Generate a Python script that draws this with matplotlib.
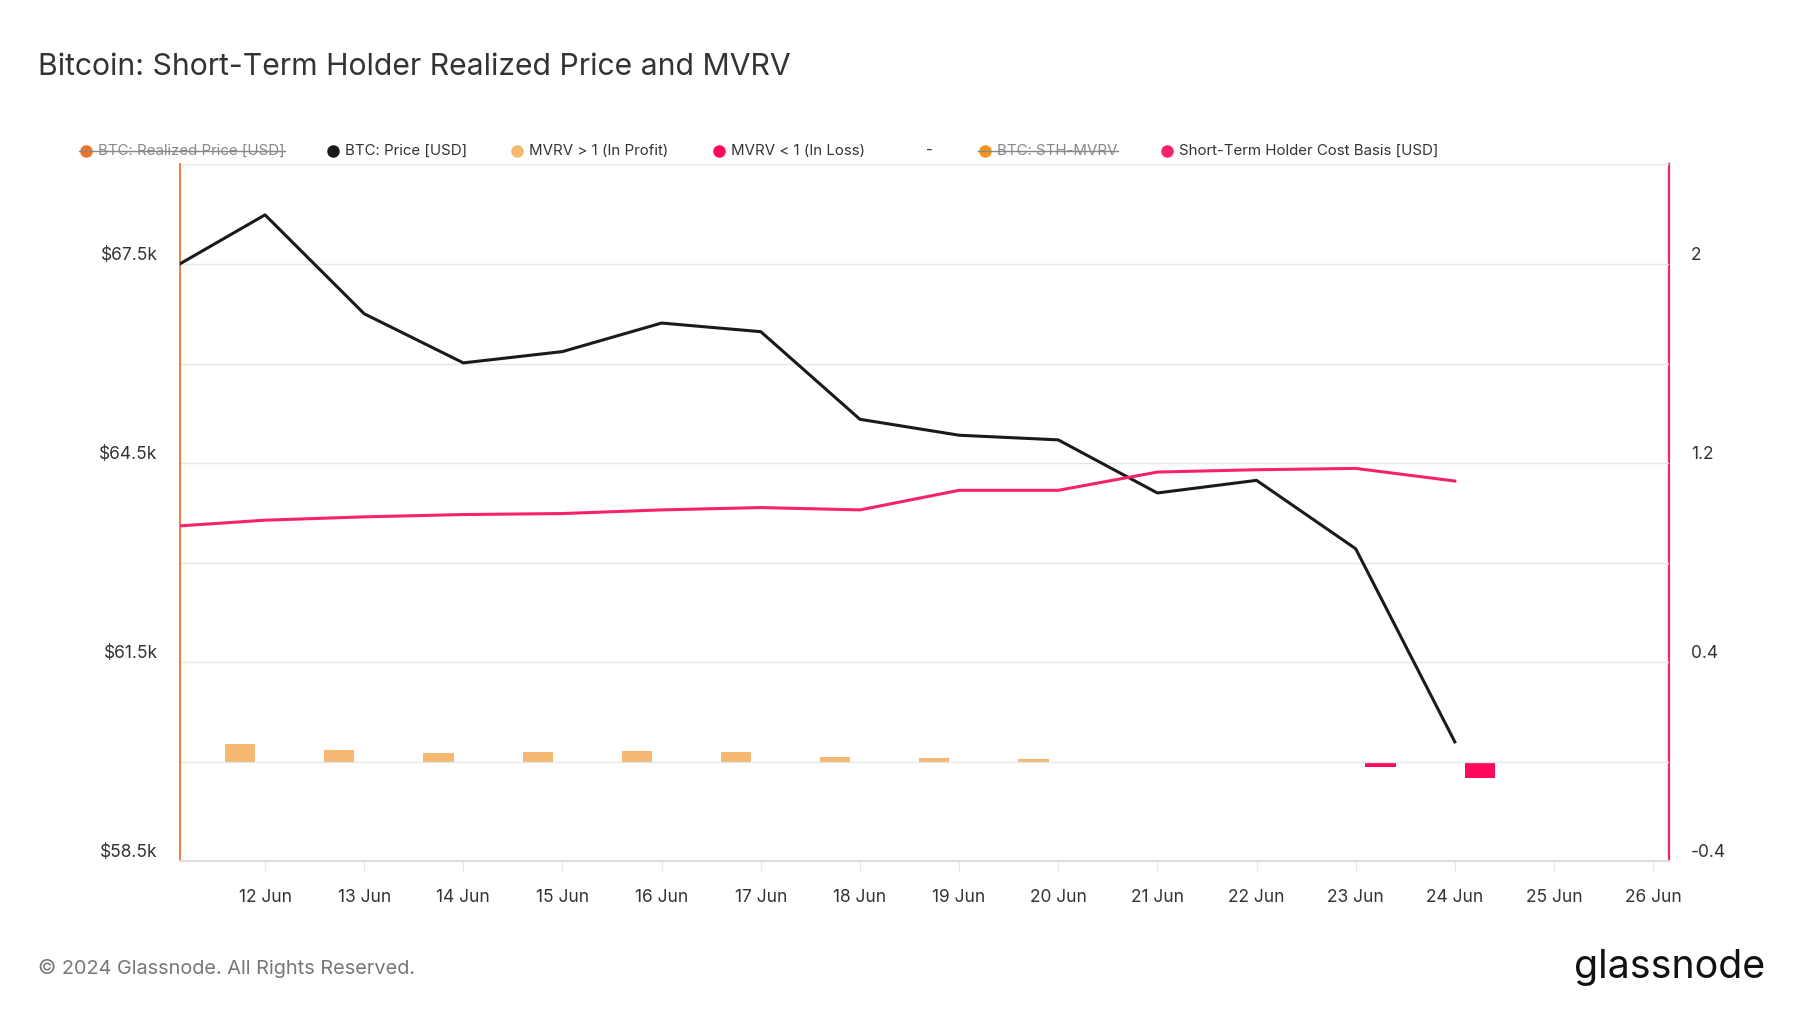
import matplotlib
matplotlib.use("Agg")
import matplotlib.pyplot as plt
import matplotlib.dates as mdates
from matplotlib.lines import Line2D
import pandas as pd

plt.rcParams['font.family'] = ['Inter', 'DejaVu Sans']

# data (daily, 11 Jun - 24 Jun 2024)
dates = pd.date_range("2024-06-11", "2024-06-24", freq="D")
btc_price = [67380, 68240, 66750, 66010, 66180, 66610, 66480,
             65160, 64920, 64850, 64050, 64240, 63210, 60300]
sth_cost_basis = [63540, 63640, 63690, 63725, 63740, 63795, 63830,
                  63795, 64090, 64090, 64365, 64400, 64420, 64230]

# STH-MVRV minus 1, drawn as bars around zero
profit_dates = pd.date_range("2024-06-12", "2024-06-20", freq="D")
mvrv_profit = [0.072, 0.046, 0.035, 0.040, 0.045, 0.041, 0.021, 0.014, 0.010]
loss_dates = pd.date_range("2024-06-23", "2024-06-24", freq="D")
mvrv_loss = [-0.020, -0.064]

left_ticks = [58500, 61500, 64500, 67500]
left_tick_labels = ["$58.5k", "$61.5k", "$64.5k", "$67.5k"]
right_ticks = [-0.4, 0.4, 1.2, 2.0]
right_tick_labels = ["-0.4", "0.4", "1.2", "2"]

TEXT = "#333333"
GRID = "#e6e6e6"
BLACK = "#1a1a1a"
PINK = "#f7226c"
LOSS = "#ff0a5a"
PROFIT = "#f4b870"
ORANGE = "#f2742a"
STH_ORANGE = "#f7931a"

fig = plt.figure(figsize=(18, 10.13), dpi=100)
ax = fig.add_axes([0.1, 0.1497, 0.8272, 0.688])
ax2 = ax.twinx()

# left axis: prices
ax.plot(dates, btc_price, color=BLACK, lw=2.2, zorder=3)
ax.plot(dates, sth_cost_basis, color=PINK, lw=2.2, zorder=3)
ax.set_ylim(58500, 69000)
grid_vals = [58500 + 1500 * i for i in range(8)]
ax.set_yticks(grid_vals)
ax.set_yticklabels([left_tick_labels[left_ticks.index(t)] if t in left_ticks else ""
                    for t in grid_vals])
ax.grid(axis='y', color=GRID, lw=1)
ax.set_axisbelow(True)

# right axis: MVRV bars
bar_w = pd.Timedelta(hours=7.3)
off = pd.Timedelta(hours=6)
ax2.bar(profit_dates - off, mvrv_profit, width=bar_w, color=PROFIT, zorder=2)
ax2.bar(loss_dates + off, mvrv_loss, width=bar_w, color=LOSS, zorder=2)
ax2.set_ylim(-0.4, 2.4)
ax2.set_yticks(right_ticks)
ax2.set_yticklabels(right_tick_labels)

ax.set_zorder(ax2.get_zorder() + 1)
ax.patch.set_visible(False)

ax.set_xlim(pd.Timestamp("2024-06-11 03:25"), pd.Timestamp("2024-06-26 03:50"))
ax.xaxis.set_major_locator(mdates.DayLocator(range(12, 27)))
ax.xaxis.set_major_formatter(mdates.DateFormatter("%-d %b"))

for a in (ax, ax2):
    for s in a.spines.values():
        s.set_visible(False)
ax.spines['left'].set_visible(True)
ax.spines['left'].set_color(ORANGE)
ax.spines['left'].set_linewidth(1.3)
ax2.spines['right'].set_visible(True)
ax2.spines['right'].set_color(PINK)
ax2.spines['right'].set_linewidth(1.6)
ax.spines['bottom'].set_visible(True)
ax.spines['bottom'].set_color("#dddddd")
ax.spines['bottom'].set_linewidth(1.5)

ax.tick_params(axis='y', length=0, pad=16, labelsize=12.5, labelcolor=TEXT)
ax2.tick_params(axis='y', length=0, pad=16, labelsize=12.5, labelcolor=TEXT)
ax.tick_params(axis='x', length=8, color="#e8e8e8", pad=12, labelsize=12.5, labelcolor=TEXT)
# y labels sit just above their gridline
for lbl in ax.get_yticklabels() + ax2.get_yticklabels():
    lbl.set_verticalalignment('bottom')

# title and footer
fig.text(0.021, 0.9336, "Bitcoin: Short-Term Holder Realized Price and MVRV",
         fontsize=21.7, color=TEXT, va='center')
fig.text(0.021, 0.044, "\u00a9 2024 Glassnode. All Rights Reserved.",
         fontsize=14.35, color="#777777", va='center')
fig.text(0.9805, 0.045, "glassnode", fontsize=28.3, color="#111111",
         ha='right', va='center')

# legend drawn by hand to mimic the toggled-off entries
legend_y = 1 - 151 / 1013
legend_items = [
    (86, ORANGE, "BTC: Realized Price [USD]", True),
    (333, BLACK, "BTC: Price [USD]", False),
    (517, PROFIT, "MVRV > 1 (In Profit)", False),
    (719, LOSS, "MVRV < 1 (In Loss)", False),
    (None, None, "-", False),
    (985, STH_ORANGE, "BTC: STH-MVRV", True),
    (1167, PINK, "Short-Term Holder Cost Basis [USD]", False),
]
fig.canvas.draw()
renderer = fig.canvas.get_renderer()
for mx, color, label, off_state in legend_items:
    if mx is None:
        fig.text(929 / 1800, legend_y, label, fontsize=10.8, color=TEXT,
                 ha='center', va='center')
        continue
    fig.add_artist(Line2D([mx / 1800], [legend_y], marker='o', ms=8, color=color,
                          mec=color, ls='none', transform=fig.transFigure))
    t = fig.text((mx + 12) / 1800, legend_y, label, fontsize=10.8,
                 color="#888888" if off_state else TEXT, va='center')
    if off_state:
        bb = t.get_window_extent(renderer).transformed(fig.transFigure.inverted())
        fig.add_artist(Line2D([mx / 1800 - 0.004, bb.x1], [legend_y, legend_y],
                              color="#888888", lw=1, transform=fig.transFigure))

fig.savefig("out.png", dpi=100, facecolor="white")
